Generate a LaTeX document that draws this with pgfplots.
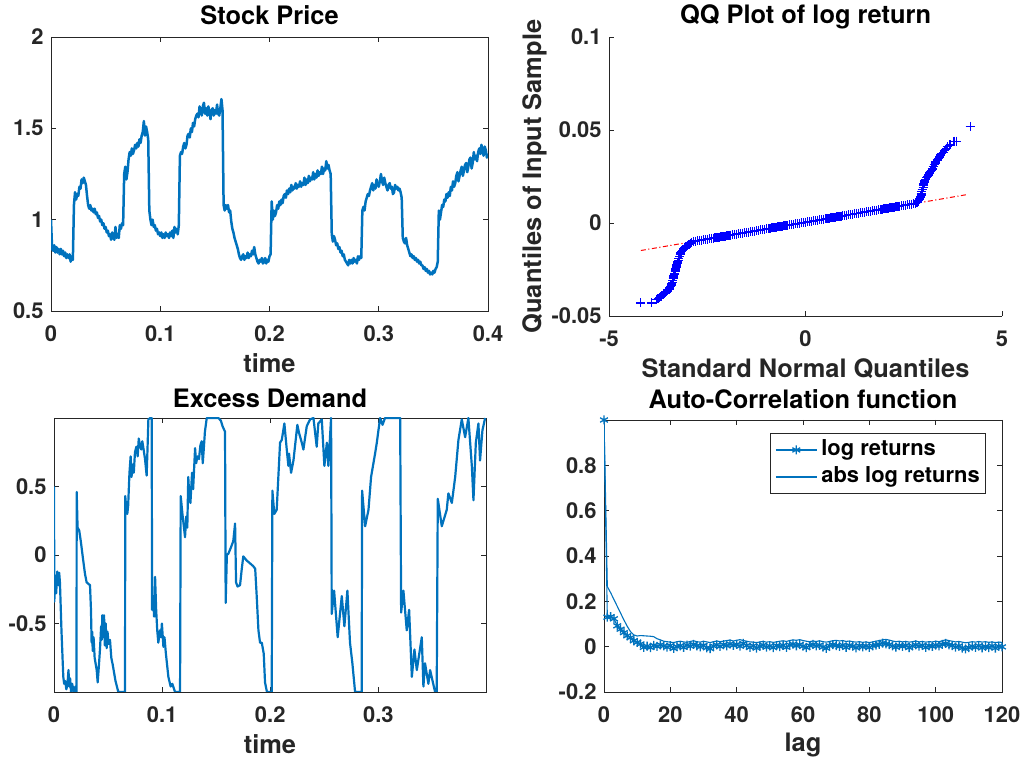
\documentclass[border=0pt]{standalone}
\usepackage{fontspec}
\setmainfont{TeX Gyre Heros}
\usepackage{pgfplots}
\pgfplotsset{compat=1.18}
\definecolor{mblue}{RGB}{0,114,189}
\definecolor{axgray}{RGB}{38,38,38}
\pgfplotsset{
  mstyle/.style={
    scale only axis,
    axis line style={axgray, line width=0.8bp},
    tick style={axgray, line width=0.8bp},
    major tick length=5bp,
    tick align=inside,
    /pgf/number format/assume math mode=true,
    scaled ticks=false,
    tick label style={font=\fontsize{22}{26}\selectfont\bfseries, text=axgray},
    xticklabel style={anchor=base, yshift=-31bp},
    yticklabel style={anchor=east, xshift=-4bp},
    label style={font=\fontsize{25.5}{30}\selectfont\bfseries, text=axgray},
    every axis title shift=0pt,
    title style={font=\fontsize{25.5}{30}\selectfont\bfseries, text=black, anchor=base},
  }
}
\begin{document}
\begin{tikzpicture}
\useasboundingbox (0,0) rectangle (1023bp,761bp);
% ---------------- Stock Price
\begin{axis}[mstyle, at={(51bp,450bp)}, anchor=south west,
  width=437bp, height=274bp,
  xmin=0, xmax=0.4, ymin=0.5, ymax=2,
  xtick={0,0.1,0.2,0.3,0.4}, ytick={0.5,1,1.5,2},
  title={Stock Price}, title style={at={(axis description cs:0.5,1.047)}},
  xlabel={time}, xlabel style={at={(axis description cs:0.5,-0.223)}, anchor=base},
]
\addplot[mblue, line width=2.5bp, line join=round] coordinates {
(0.000,1.00)(0.001,0.84)(0.002,0.83)(0.003,0.86)(0.004,0.82)(0.005,0.85)(0.006,0.82)(0.007,0.84)(0.008,0.81)(0.009,0.84)(0.010,0.81)(0.011,0.83)(0.012,0.80)(0.013,0.82)(0.014,0.79)(0.015,0.81)(0.016,0.79)(0.017,0.81)(0.018,0.77)(0.019,0.80)(0.020,0.78)
(0.021,1.08)(0.022,1.15)(0.023,1.11)(0.024,1.14)(0.025,1.13)(0.026,1.18)(0.027,1.17)(0.028,1.22)(0.029,1.20)(0.030,1.23)(0.031,1.21)(0.032,1.19)(0.033,1.13)(0.034,1.08)(0.035,1.06)(0.036,1.08)(0.037,1.05)(0.038,1.06)(0.039,1.04)(0.040,1.06)(0.041,1.03)(0.042,1.04)(0.043,1.01)(0.044,1.02)(0.045,0.99)(0.046,1.00)(0.047,0.97)(0.048,0.98)(0.049,0.95)(0.050,0.96)(0.051,0.93)(0.052,0.94)(0.053,0.91)(0.054,0.92)(0.055,0.89)(0.056,0.93)(0.057,0.90)(0.058,0.89)(0.059,0.96)(0.060,0.90)(0.061,0.92)(0.062,0.90)(0.063,0.97)(0.064,0.95)(0.065,0.98)(0.066,0.97)
(0.067,1.25)(0.068,1.29)(0.069,1.22)(0.070,1.26)(0.071,1.33)(0.072,1.37)(0.073,1.35)(0.074,1.39)(0.075,1.36)(0.076,1.38)(0.077,1.41)(0.078,1.39)(0.079,1.42)(0.080,1.40)(0.081,1.44)(0.082,1.42)(0.083,1.46)(0.084,1.48)(0.085,1.54)(0.086,1.46)(0.087,1.51)(0.088,1.48)(0.089,1.44)
(0.090,1.05)(0.091,1.00)(0.092,0.97)(0.093,1.00)(0.094,0.96)(0.095,0.97)(0.096,0.94)(0.097,0.95)(0.098,0.92)(0.099,0.93)(0.100,0.91)(0.101,0.93)(0.102,0.90)(0.103,0.92)(0.104,0.90)(0.105,0.93)(0.106,0.91)(0.107,0.92)(0.108,0.90)(0.109,0.93)(0.110,0.91)(0.111,0.94)(0.112,0.90)(0.113,0.96)(0.114,0.93)(0.115,0.95)(0.116,0.92)(0.117,0.97)
(0.118,1.35)(0.119,1.37)(0.120,1.36)(0.121,1.40)(0.122,1.42)(0.123,1.39)(0.124,1.41)(0.125,1.46)(0.126,1.47)(0.127,1.45)(0.128,1.50)(0.129,1.48)(0.130,1.53)(0.131,1.51)(0.132,1.55)(0.133,1.57)(0.134,1.58)(0.135,1.56)(0.136,1.62)(0.137,1.59)(0.138,1.57)(0.139,1.62)(0.140,1.64)(0.141,1.58)(0.142,1.61)(0.143,1.57)(0.144,1.62)(0.145,1.59)(0.146,1.55)(0.147,1.60)(0.148,1.61)(0.149,1.57)(0.150,1.60)(0.151,1.58)(0.152,1.63)(0.153,1.58)(0.154,1.57)(0.155,1.61)(0.156,1.66)(0.157,1.60)
(0.158,1.08)(0.159,1.05)(0.160,1.08)(0.161,1.06)(0.162,1.08)(0.163,1.04)(0.164,1.05)(0.165,0.99)(0.166,0.95)(0.167,0.93)(0.168,0.90)(0.169,0.88)(0.170,0.86)(0.171,0.84)(0.172,0.81)(0.173,0.79)(0.174,0.78)(0.175,0.80)(0.176,0.81)(0.177,0.78)(0.178,0.80)(0.179,0.79)(0.180,0.82)(0.181,0.79)(0.182,0.81)(0.183,0.80)(0.184,0.83)(0.185,0.81)(0.186,0.85)(0.187,0.81)(0.188,0.79)(0.189,0.77)(0.190,0.76)(0.191,0.78)(0.192,0.77)(0.193,0.79)(0.194,0.76)(0.195,0.77)(0.196,0.79)(0.197,0.76)(0.198,0.78)(0.199,0.77)(0.200,0.80)(0.201,0.81)
(0.202,1.10)(0.203,1.00)(0.204,1.05)(0.205,1.02)(0.206,1.04)(0.207,1.08)(0.208,1.06)(0.209,1.10)(0.210,1.08)(0.211,1.11)(0.212,1.09)(0.213,1.13)(0.214,1.14)(0.215,1.12)(0.216,1.16)(0.217,1.14)(0.218,1.17)(0.219,1.15)(0.220,1.19)(0.221,1.16)(0.222,1.18)(0.223,1.17)(0.224,1.20)(0.225,1.17)(0.226,1.19)(0.227,1.18)(0.228,1.21)(0.229,1.18)(0.230,1.20)(0.231,1.19)(0.232,1.23)(0.233,1.19)(0.234,1.22)(0.235,1.20)(0.236,1.24)(0.237,1.21)(0.238,1.23)(0.239,1.22)(0.240,1.26)(0.241,1.22)(0.242,1.25)(0.243,1.23)(0.244,1.27)(0.245,1.24)(0.246,1.26)(0.247,1.25)(0.248,1.29)(0.249,1.25)(0.250,1.28)(0.251,1.27)(0.252,1.32)(0.253,1.28)(0.254,1.30)(0.255,1.27)(0.256,1.25)
(0.257,0.92)(0.258,0.88)(0.259,0.91)(0.260,0.89)(0.261,0.86)(0.262,0.87)(0.263,0.84)(0.264,0.85)(0.265,0.82)(0.266,0.83)(0.267,0.80)(0.268,0.81)(0.269,0.78)(0.270,0.77)(0.271,0.76)(0.272,0.75)(0.273,0.78)(0.274,0.76)(0.275,0.78)(0.276,0.76)(0.277,0.79)(0.278,0.77)(0.279,0.78)(0.280,0.76)(0.281,0.80)(0.282,0.78)(0.283,0.80)(0.284,0.79)
(0.285,1.05)(0.286,1.07)(0.287,1.05)(0.288,1.10)(0.289,1.12)(0.290,1.14)(0.291,1.13)(0.292,1.16)(0.293,1.18)(0.294,1.20)(0.295,1.16)(0.296,1.19)(0.297,1.17)(0.298,1.22)(0.299,1.19)(0.300,1.18)(0.301,1.21)(0.302,1.25)(0.303,1.21)(0.304,1.19)(0.305,1.23)(0.306,1.20)(0.307,1.18)(0.308,1.16)(0.309,1.19)(0.310,1.20)(0.311,1.17)(0.312,1.18)(0.313,1.14)(0.314,1.15)(0.315,1.19)(0.316,1.17)(0.317,1.18)(0.318,1.16)(0.319,1.17)(0.320,1.15)(0.321,1.12)
(0.322,0.90)(0.323,0.88)(0.324,0.87)(0.325,0.90)(0.326,0.86)(0.327,0.84)(0.328,0.82)(0.329,0.80)(0.330,0.81)(0.331,0.79)(0.332,0.80)(0.333,0.78)(0.334,0.79)(0.335,0.77)(0.336,0.78)(0.337,0.76)(0.338,0.77)(0.339,0.75)(0.340,0.75)(0.341,0.73)(0.342,0.74)(0.343,0.72)(0.344,0.73)(0.345,0.71)(0.346,0.72)(0.347,0.70)(0.348,0.71)(0.349,0.70)(0.350,0.72)(0.351,0.71)(0.352,0.73)(0.353,0.74)(0.354,0.77)
(0.355,1.05)(0.356,1.00)(0.357,1.04)(0.358,1.08)(0.359,1.07)(0.360,1.11)(0.361,1.10)(0.362,1.14)(0.363,1.12)(0.364,1.15)(0.365,1.13)(0.366,1.18)(0.367,1.16)(0.368,1.21)(0.369,1.18)(0.370,1.20)(0.371,1.24)(0.372,1.26)(0.373,1.21)(0.374,1.24)(0.375,1.27)(0.376,1.29)(0.377,1.24)(0.378,1.27)(0.379,1.30)(0.380,1.31)(0.381,1.26)(0.382,1.29)(0.383,1.33)(0.384,1.34)(0.385,1.28)(0.386,1.31)(0.387,1.37)(0.388,1.33)(0.389,1.35)(0.390,1.32)(0.391,1.37)(0.392,1.39)(0.393,1.36)(0.394,1.41)(0.395,1.37)(0.396,1.35)(0.397,1.40)(0.398,1.38)(0.399,1.34)(0.400,1.36)
};
\end{axis}
% ---------------- QQ plot
\begin{axis}[mstyle, at={(609bp,445bp)}, anchor=south west,
  width=393bp, height=279bp,
  axis x line*=bottom, axis y line*=left,
  xmin=-5, xmax=5, ymin=-0.05, ymax=0.1,
  xtick={-5,0,5}, ytick={-0.05,0,0.05,0.1},
  yticklabel style={/pgf/number format/fixed, /pgf/number format/precision=2},
  title={QQ Plot of log return}, title style={at={(axis description cs:0.5,1.047)}},
  xlabel={Standard Normal Quantiles}, xlabel style={at={(axis description cs:0.5,-0.222)}, anchor=base},
  ylabel={Quantiles of Input Sample}, ylabel style={at={(axis description cs:-0.173,0.5)}, anchor=base},
]
\addplot[red, line width=1bp, dash pattern=on 5bp off 2.5bp on 1.2bp off 2.5bp] coordinates {(-4.19,-0.0148)(4.09,0.0152)};
\addplot[only marks, blue, mark=+, mark size=4.5bp, line width=1.3bp] coordinates {
(-4.19,-0.0430)(-3.92,-0.0430)(-3.80,-0.0410)(-3.75,-0.0405)(-3.72,-0.0400)(-3.68,-0.0395)(-3.66,-0.0390)(-3.62,-0.0385)(-3.60,-0.0380)(-3.57,-0.0375)(-3.55,-0.0370)(-3.52,-0.0365)(-3.50,-0.0360)(-3.47,-0.0355)(-3.45,-0.0350)(-3.43,-0.0342)(-3.42,-0.0335)(-3.40,-0.0328)(-3.39,-0.0320)(-3.38,-0.0310)(-3.37,-0.0300)(-3.36,-0.0292)(-3.35,-0.0285)(-3.34,-0.0278)(-3.33,-0.0270)(-3.32,-0.0262)(-3.31,-0.0255)(-3.30,-0.0248)(-3.29,-0.0240)(-3.28,-0.0232)(-3.27,-0.0225)(-3.26,-0.0218)(-3.25,-0.0210)(-3.23,-0.0200)(-3.22,-0.0190)(-3.20,-0.0180)(-3.19,-0.0170)(-3.17,-0.0162)(-3.15,-0.0155)(-3.12,-0.0147)(-3.10,-0.0140)(-3.07,-0.0134)(-3.05,-0.0128)(-3.02,-0.0124)(-3.00,-0.0120)(-2.97,-0.0116)(-2.95,-0.0113)(-2.92,-0.0110)(-2.90,-0.0107)
(-2.85,-0.00992)(-2.80,-0.00974)(-2.75,-0.00956)(-2.70,-0.00937)(-2.65,-0.00919)(-2.60,-0.00901)(-2.55,-0.00883)(-2.50,-0.00865)(-2.45,-0.00847)(-2.40,-0.00829)(-2.35,-0.00811)(-2.30,-0.00793)(-2.25,-0.00775)(-2.20,-0.00756)(-2.15,-0.00738)(-2.10,-0.00720)(-2.05,-0.00702)(-2.00,-0.00684)(-1.95,-0.00666)(-1.90,-0.00648)(-1.85,-0.00630)(-1.80,-0.00612)(-1.75,-0.00594)(-1.70,-0.00575)(-1.65,-0.00557)(-1.60,-0.00539)(-1.55,-0.00521)(-1.50,-0.00503)(-1.45,-0.00485)(-1.40,-0.00467)(-1.35,-0.00449)(-1.30,-0.00431)(-1.25,-0.00413)(-1.20,-0.00394)(-1.15,-0.00376)(-1.10,-0.00358)(-1.05,-0.00340)(-1.00,-0.00322)(-0.95,-0.00304)(-0.90,-0.00286)(-0.85,-0.00268)(-0.80,-0.00250)(-0.75,-0.00232)(-0.70,-0.00213)(-0.65,-0.00195)(-0.60,-0.00177)(-0.55,-0.00159)(-0.50,-0.00141)(-0.45,-0.00123)(-0.40,-0.00105)(-0.35,-0.00087)(-0.30,-0.00069)(-0.25,-0.00051)(-0.20,-0.00032)(-0.15,-0.00014)(-0.10,0.00004)(-0.05,0.00022)
(0.00,0.00040)(0.05,0.00058)(0.10,0.00076)(0.15,0.00094)(0.20,0.00112)(0.25,0.00131)(0.30,0.00149)(0.35,0.00167)(0.40,0.00185)(0.45,0.00203)(0.50,0.00221)(0.55,0.00239)(0.60,0.00257)(0.65,0.00275)(0.70,0.00293)(0.75,0.00312)(0.80,0.00330)(0.85,0.00348)(0.90,0.00366)(0.95,0.00384)(1.00,0.00402)(1.05,0.00420)(1.10,0.00438)(1.15,0.00456)(1.20,0.00474)(1.25,0.00493)(1.30,0.00511)(1.35,0.00529)(1.40,0.00547)(1.45,0.00565)(1.50,0.00583)(1.55,0.00601)(1.60,0.00619)(1.65,0.00637)(1.70,0.00655)(1.75,0.00674)(1.80,0.00692)(1.85,0.00710)(1.90,0.00728)(1.95,0.00746)(2.00,0.00764)(2.05,0.00782)(2.10,0.00800)(2.15,0.00818)(2.20,0.00836)(2.25,0.00855)(2.30,0.00873)(2.35,0.00891)(2.40,0.00909)(2.45,0.00927)(2.50,0.00945)(2.55,0.00963)(2.60,0.00981)(2.65,0.00999)(2.70,0.01017)(2.75,0.01036)(2.80,0.01054)
(2.84,0.0110)(2.86,0.0115)(2.88,0.0120)(2.89,0.0125)(2.91,0.0132)(2.92,0.0140)(2.94,0.0150)(2.95,0.0160)(2.96,0.0170)(2.97,0.0180)(2.99,0.0190)(3.00,0.0200)(3.01,0.0210)(3.02,0.0220)(3.04,0.0228)(3.06,0.0235)(3.08,0.0243)(3.10,0.0250)(3.12,0.0256)(3.14,0.0262)(3.16,0.0268)(3.18,0.0275)(3.20,0.0282)(3.22,0.0290)(3.25,0.0303)(3.27,0.0315)(3.30,0.0322)(3.32,0.0330)(3.35,0.0338)(3.38,0.0345)(3.41,0.0355)(3.44,0.0365)(3.47,0.0372)(3.50,0.0380)(3.53,0.0388)(3.56,0.0395)(3.59,0.0402)(3.62,0.0410)(3.68,0.0420)(3.78,0.0440)(3.84,0.0440)(4.19,0.0520)
};
\end{axis}
% ---------------- Excess Demand
\begin{axis}[mstyle, at={(54bp,69bp)}, anchor=south west,
  width=432bp, height=274bp,
  xmin=0, xmax=0.3996, ymin=-1, ymax=1,
  xtick={0,0.1,0.2,0.3}, ytick={-0.5,0,0.5},
  title={Excess Demand}, title style={at={(axis description cs:0.5,1.04)}},
  xlabel={time}, xlabel style={at={(axis description cs:0.5,-0.223)}, anchor=base},
]
\addplot[mblue, line width=2.2bp, line join=round] coordinates {
(0.0000,0.50)(0.0003,-0.34)(0.0010,-0.15)(0.0020,-0.28)(0.0030,-0.12)(0.0040,-0.22)(0.0048,-0.13)(0.0055,-0.20)(0.0069,-0.55)(0.0086,-0.89)(0.0094,-0.94)(0.0104,-0.92)(0.0114,-0.98)(0.0124,-0.95)(0.0134,-0.84)(0.0141,-0.96)(0.0149,-0.90)(0.0158,-1.00)(0.0168,-0.94)(0.0183,-1.00)(0.0198,-0.96)(0.0208,-1.00)
(0.0210,0.46)(0.0218,0.20)(0.0233,0.18)(0.0248,0.10)(0.0267,-0.02)(0.0287,-0.14)(0.0302,-0.20)(0.0333,-0.22)(0.0342,-0.40)(0.0348,-0.64)(0.0354,-0.56)(0.0358,-0.70)(0.0366,-0.60)(0.0376,-0.75)(0.0395,-0.84)(0.0404,-0.93)(0.0416,-0.80)(0.0426,-0.68)(0.0436,-0.52)(0.0441,-0.62)(0.0447,-0.44)(0.0455,-0.60)(0.0463,-0.44)(0.0470,-0.66)(0.0478,-0.50)(0.0487,-0.68)(0.0495,-0.56)(0.0505,-0.65)(0.0518,-0.62)(0.0530,-0.75)(0.0543,-0.80)(0.0569,-0.92)(0.0595,-1.00)(0.0657,-1.00)
(0.0659,0.43)(0.0671,0.32)(0.0678,0.30)(0.0686,0.36)(0.0698,0.60)(0.0709,0.72)(0.0717,0.57)(0.0728,0.66)(0.0738,0.60)(0.0749,0.75)(0.0762,0.79)(0.0774,0.72)(0.0784,0.85)(0.0796,0.80)(0.0807,0.77)(0.0817,0.83)(0.0827,0.78)(0.0842,0.70)(0.0857,0.58)(0.0866,0.80)(0.0873,0.99)(0.0891,1.00)(0.0904,1.00)
(0.0907,-0.40)(0.0916,-0.30)(0.0926,-0.45)(0.0935,-0.16)(0.0945,-0.40)(0.0955,-0.55)(0.0965,-0.64)(0.0980,-0.55)(0.0990,-0.60)(0.0998,-0.50)(0.1012,-0.67)(0.1022,-0.60)(0.1035,-0.72)(0.1058,-0.89)(0.1079,-0.96)(0.1094,-0.94)(0.1120,-1.00)(0.1166,-1.00)
(0.1172,0.43)(0.1188,0.30)(0.1212,0.13)(0.1223,0.28)(0.1233,0.20)(0.1242,0.57)(0.1252,0.42)(0.1262,0.38)(0.1277,0.60)(0.1287,0.48)(0.1305,0.78)(0.1315,0.67)(0.1327,0.72)(0.1341,0.70)(0.1354,0.80)(0.1366,0.83)(0.1376,0.67)(0.1386,0.78)(0.1396,0.90)(0.1413,1.00)(0.1521,1.00)(0.1544,0.98)(0.1559,0.94)(0.1582,0.90)
(0.1588,-0.35)(0.1599,0.00)(0.1613,0.01)(0.1634,0.05)(0.1658,0.10)(0.1675,0.23)(0.1684,-0.20)(0.1698,-0.23)(0.1721,-0.22)(0.1737,-0.10)(0.1751,-0.01)(0.1782,-0.04)(0.1812,-0.06)(0.1841,-0.08)(0.1861,-0.10)(0.1875,-0.30)(0.1891,-0.55)(0.1906,-0.64)(0.1922,-0.64)(0.1940,-0.72)(0.1952,-0.93)(0.1970,-1.00)(0.2014,-1.00)
(0.2020,0.47)(0.2038,0.30)(0.2060,0.33)(0.2091,0.82)(0.2107,0.84)(0.2131,0.96)(0.2153,0.77)(0.2168,0.65)(0.2174,0.74)(0.2193,0.60)(0.2215,0.69)(0.2251,0.95)(0.2267,0.89)(0.2292,0.82)(0.2307,0.77)(0.2338,0.94)(0.2369,0.99)(0.2400,1.00)(0.2430,0.79)(0.2445,0.96)(0.2477,0.99)(0.2501,0.65)(0.2524,0.82)(0.2538,0.65)(0.2563,1.00)
(0.2569,-0.43)(0.2591,-0.26)(0.2624,-0.60)(0.2662,-0.30)(0.2686,-0.52)(0.2714,-0.26)(0.2738,-0.64)(0.2760,-0.79)(0.2785,-1.00)(0.2846,-1.00)
(0.2850,0.47)(0.2878,0.21)(0.2909,0.33)(0.2933,0.57)(0.2970,0.74)(0.2986,0.82)(0.3001,0.91)(0.3017,1.00)(0.3039,0.95)(0.3062,1.00)(0.3202,1.00)
(0.3211,-0.42)(0.3232,-0.26)(0.3263,-0.55)(0.3285,-0.40)(0.3310,-0.89)(0.3334,-0.69)(0.3356,-0.84)(0.3402,-0.60)(0.3417,-0.96)(0.3432,-0.79)(0.3463,-0.94)(0.3479,-0.84)(0.3525,-1.00)(0.3540,-1.00)
(0.3550,0.41)(0.3587,0.21)(0.3633,0.33)(0.3648,0.45)(0.3680,0.38)(0.3711,0.57)(0.3741,0.84)(0.3772,0.99)(0.3803,0.86)(0.3833,1.00)(0.3865,0.65)(0.3880,0.40)(0.3902,0.82)(0.3926,0.96)(0.3941,0.69)(0.3963,0.91)(0.3988,1.00)
};
\end{axis}
% ---------------- ACF
\begin{axis}[mstyle, at={(604bp,69bp)}, anchor=south west,
  width=398bp, height=272bp,
  xmin=0, xmax=120, ymin=-0.2, ymax=1,
  xtick={0,20,40,60,80,100,120}, ytick={-0.2,0,0.2,0.4,0.6,0.8},
  title={Auto-Correlation function}, title style={at={(axis description cs:0.5,1.044)}},
  xlabel={lag}, xlabel style={at={(axis description cs:0.5,-0.22)}, anchor=base},
  legend style={at={(0.96,0.952)}, anchor=north east, draw=axgray, line width=0.8bp,
    font=\fontsize{22}{26}\selectfont\bfseries, text=black,
    inner xsep=5bp, inner ysep=3bp, column sep=3bp, row sep=0bp,
    nodes={inner xsep=1bp, inner ysep=2bp, text height=17bp, text depth=6bp}},
  legend cell align=left,
  legend image code/.code={\draw[mark repeat=2,mark phase=2,#1] plot coordinates {(0bp,0bp) (20.5bp,0bp) (41bp,0bp)};},
]
\addplot[mblue, line width=1.1bp, mark=asterisk, mark size=4.5bp, mark options={line width=1.3bp}] coordinates {
(0,1.0)(1,0.130)(2,0.132)(3,0.123)(4,0.092)(5,0.077)(6,0.062)(7,0.048)(8,0.040)(9,0.026)(10,0.019)(11,0.012)(12,-0.003)
(13,0.002)(14,-0.004)(15,0.006)(16,0.001)(17,0.008)(18,0.003)(19,-0.002)(20,0.005)(21,-0.008)(22,0.000)(23,0.004)(24,-0.003)(25,0.007)(26,0.002)(27,0.010)(28,0.004)(29,-0.001)(30,0.006)
(31,-0.005)(32,-0.009)(33,0.003)(34,0.008)(35,0.001)(36,0.009)(37,0.004)(38,0.012)(39,0.006)(40,0.010)(41,0.002)(42,0.014)(43,0.005)(44,-0.003)(45,0.004)(46,-0.006)(47,0.002)(48,0.007)(49,-0.002)(50,0.003)
(51,-0.004)(52,0.005)(53,0.000)(54,0.006)(55,-0.003)(56,0.008)(57,0.011)(58,0.004)(59,0.009)(60,0.002)(61,-0.004)(62,0.005)(63,0.010)(64,0.003)(65,0.007)(66,-0.002)(67,-0.007)(68,0.004)(69,0.009)(70,0.005)
(71,0.001)(72,0.007)(73,-0.003)(74,0.006)(75,0.002)(76,-0.005)(77,0.004)(78,-0.001)(79,0.003)(80,-0.003)(81,0.004)(82,0.007)(83,0.010)(84,0.016)(85,0.012)(86,0.009)(87,0.003)(88,-0.002)(89,0.005)(90,0.001)
(91,0.006)(92,-0.004)(93,0.003)(94,0.008)(95,0.002)(96,0.006)(97,-0.003)(98,0.004)(99,0.001)(100,0.007)(101,0.003)(102,0.010)(103,0.014)(104,0.008)(105,0.005)(106,-0.002)(107,0.003)(108,-0.006)(109,-0.010)(110,-0.004)
(111,0.002)(112,-0.003)(113,0.004)(114,-0.005)(115,0.001)(116,-0.004)(117,0.003)(118,-0.006)(119,0.002)(120,-0.001)
};
\addlegendentry{log returns}
\addplot[mblue, line width=1.1bp] coordinates {
(0,1.0)(1,0.265)(2,0.238)(3,0.208)(4,0.178)(5,0.148)(6,0.118)(7,0.090)(8,0.066)(9,0.052)(10,0.047)(11,0.049)(12,0.048)(13,0.047)(14,0.046)(15,0.044)
(16,0.035)(17,0.030)(18,0.024)(19,0.022)(20,0.020)(21,0.018)(22,0.022)(23,0.024)(24,0.021)(25,0.019)(26,0.023)(27,0.026)(28,0.022)(29,0.020)(30,0.024)
(31,0.021)(32,0.018)(33,0.022)(34,0.025)(35,0.022)(36,0.024)(37,0.027)(38,0.029)(39,0.025)(40,0.028)(41,0.031)(42,0.027)(43,0.024)(44,0.021)(45,0.020)(46,0.018)(47,0.021)(48,0.023)(49,0.020)(50,0.022)
(51,0.019)(52,0.021)(53,0.024)(54,0.026)(55,0.023)(56,0.027)(57,0.030)(58,0.028)(59,0.031)(60,0.027)(61,0.024)(62,0.022)(63,0.025)(64,0.023)(65,0.026)(66,0.022)(67,0.020)(68,0.023)(69,0.026)(70,0.028)
(71,0.025)(72,0.027)(73,0.023)(74,0.025)(75,0.022)(76,0.020)(77,0.022)(78,0.019)(79,0.021)(80,0.018)(81,0.021)(82,0.024)(83,0.027)(84,0.030)(85,0.032)(86,0.029)(87,0.025)(88,0.022)(89,0.024)(90,0.021)
(91,0.023)(92,0.020)(93,0.022)(94,0.025)(95,0.021)(96,0.023)(97,0.020)(98,0.022)(99,0.021)(100,0.024)(101,0.022)(102,0.026)(103,0.030)(104,0.027)(105,0.024)(106,0.021)(107,0.023)(108,0.020)(109,0.017)(110,0.019)
(111,0.022)(112,0.020)(113,0.023)(114,0.020)(115,0.022)(116,0.019)(117,0.021)(118,0.018)(119,0.020)(120,0.019)
};
\addlegendentry{abs log returns}
\end{axis}
\end{tikzpicture}
\end{document}
